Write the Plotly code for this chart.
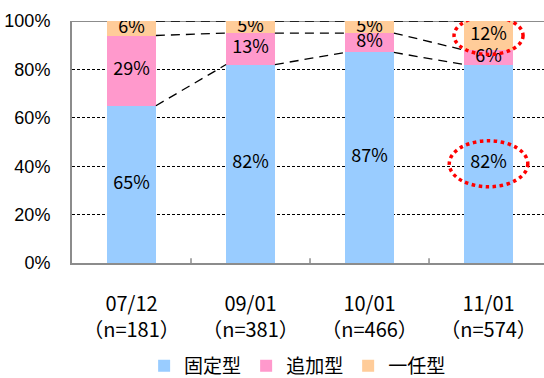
import plotly.graph_objects as go

# Survey periods and sample sizes
periods = ["07/12", "09/01", "10/01", "11/01"]
sample_sizes = ["（n=181）", "（n=381）", "（n=466）", "（n=574）"]

# Share of each plan type (%)
series_names = ["固定型", "追加型", "一任型"]
fixed = [65, 82, 87, 82]
added = [29, 13, 8, 6]
discretionary = [6, 5, 5, 12]
colors = ["#99CCFF", "#FF99CC", "#FFCC99"]

y_ticks = [0, 20, 40, 60, 80, 100]

series = [fixed, added, discretionary]
x = list(range(len(periods)))
bar_w = 0.41
jp_font = "Noto Sans CJK JP"

fig = go.Figure()

# Stacked bars
for name, vals, col in zip(series_names, series, colors):
    fig.add_trace(go.Bar(
        x=x, y=vals, name=name, marker=dict(color=col, line=dict(width=0)),
        width=bar_w, hoverinfo="skip",
    ))

# Cumulative tops and segment midpoints
cum = []
running = [0] * len(x)
mids = []
for vals in series:
    mids.append([r + v / 2 for r, v in zip(running, vals)])
    running = [r + v for r, v in zip(running, vals)]
    cum.append(list(running))

# Dashed connector lines between adjacent bars at each segment top
for tops in cum:
    for i in range(len(x) - 1):
        fig.add_trace(go.Scatter(
            x=[x[i] + bar_w / 2, x[i + 1] - bar_w / 2],
            y=[tops[i], tops[i + 1]],
            mode="lines", line=dict(color="black", width=1.3, dash="9px,6px"),
            showlegend=False, hoverinfo="skip",
        ))

# Value labels centred in each segment
for vals, m in zip(series, mids):
    fig.add_trace(go.Scatter(
        x=x, y=m, mode="text", text=[f"{v}%" for v in vals],
        textfont=dict(family=jp_font, size=18, color="black"),
        showlegend=False, hoverinfo="skip",
    ))

# Red dotted highlight ellipses on the latest period
last = len(x) - 1
highlight = [
    (mids[2][last], 0.29, 7.8),
    (mids[0][last], 0.33, 9.5),
]
for yc, rx, ry in highlight:
    fig.add_shape(type="circle", xref="x", yref="y",
                  x0=x[last] - rx, x1=x[last] + rx, y0=yc - ry, y1=yc + ry,
                  line=dict(color="#FF0000", width=3.5, dash="dot"), layer="above")

# Top border of plot area
fig.add_shape(type="line", xref="paper", yref="y", x0=0, x1=1, y0=100, y1=100,
              line=dict(color="#8C8C8C", width=2), layer="below")

fig.update_layout(
    barmode="stack",
    width=544, height=378,
    margin=dict(l=72, r=0, t=21, b=115, autoexpand=False),
    paper_bgcolor="white", plot_bgcolor="white",
    font=dict(family=jp_font, color="black"),
    legend=dict(orientation="h", x=0.478, xanchor="center",
                yref="container", y=0.032, yanchor="middle",
                font=dict(family=jp_font, size=19), itemwidth=30,
                traceorder="normal"),
    showlegend=True,
)

fig.update_xaxes(
    range=[-0.5, 3.466], tickmode="array", tickvals=x,
    ticktext=[f"{p}<br>{n}" for p, n in zip(periods, sample_sizes)],
    tickfont=dict(family=jp_font, size=20),
    showline=True, linecolor="#8C8C8C", linewidth=2,
    ticks="", showgrid=False, zeroline=False, ticklabelstandoff=22,
    automargin=False,
)
fig.update_yaxes(
    range=[0, 100], tickmode="array", tickvals=y_ticks,
    ticktext=[f"{t}%" for t in y_ticks],
    tickfont=dict(family="Liberation Sans", size=18),
    showline=True, linecolor="#8C8C8C", linewidth=2,
    showgrid=True, gridcolor="black", gridwidth=1, griddash="3px,2px",
    zeroline=False, ticks="", ticklabelstandoff=16, automargin=False,
)

# Small tick marks between categories on the baseline
for b in [0.5, 1.5, 2.5]:
    fig.add_shape(type="line", xref="x", yref="y", x0=b, x1=b, y0=0, y1=2,
                  line=dict(color="#8C8C8C", width=1.5))

fig.write_html("out.html")
